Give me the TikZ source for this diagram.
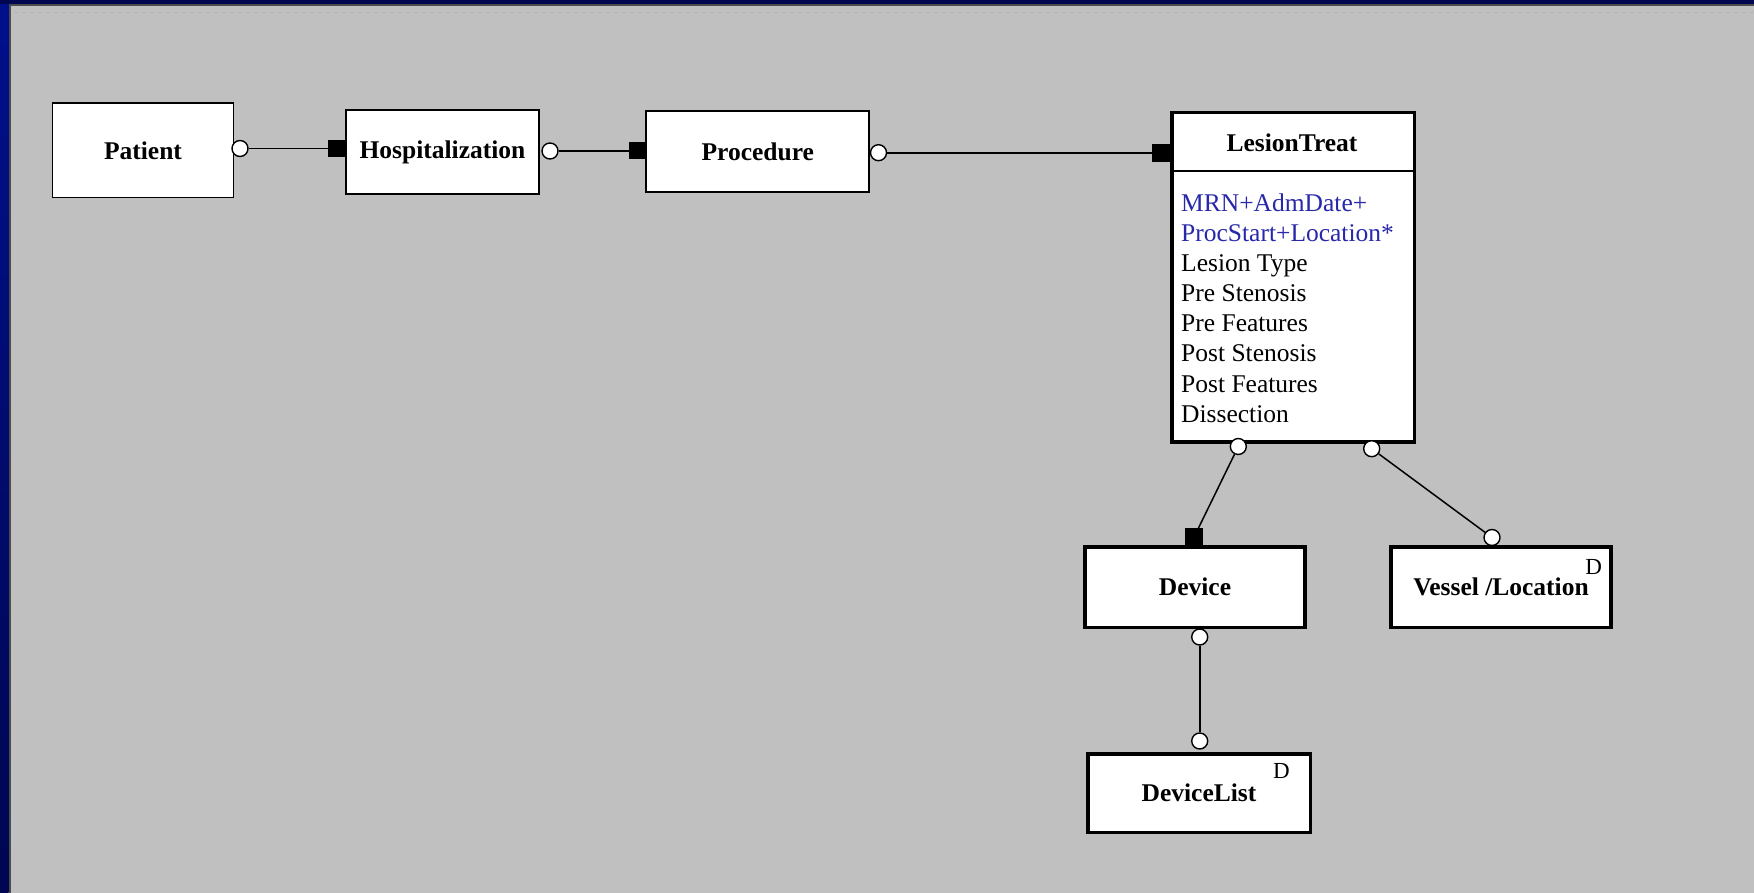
\documentclass[tikz,border=0pt]{standalone}
\usepackage{fontspec}
\setmainfont{Liberation Serif}
\definecolor{panel}{RGB}{192,192,192}
\definecolor{gridgray}{RGB}{172,172,172}
\definecolor{navy}{RGB}{0,16,140}
\definecolor{navydark}{RGB}{0,6,80}
\definecolor{keyblue}{RGB}{40,40,170}
\begin{document}
\begin{tikzpicture}[x=1pt,y=-1pt,
  entity/.style={draw=black, fill=white, line width=1.9pt, inner sep=0pt,
                 font=\fontsize{25.5}{30}\selectfont\bfseries},
  heavy/.style={entity, line width=3.5pt},
  optend/.style={circle, draw=black, fill=white, line width=1.4pt,
                 minimum size=16pt, inner sep=0pt},
  mandend/.style={rectangle, fill=black, inner sep=0pt,
                  minimum width=17pt, minimum height=17pt},
  link/.style={line width=1.9pt},
  attr/.style={anchor=base west, inner sep=0pt, font=\fontsize{25.5}{30}\selectfont},
  tag/.style={inner sep=0pt, font=\fontsize{23}{26}\selectfont}]

\useasboundingbox (0,0) rectangle (1754,893);

% window background and frame
\fill[panel] (0,0) rectangle (1754,893);
\shade[top color=navy, bottom color=navydark] (0,0) rectangle (8.5,893);
\fill[navydark] (0,0) rectangle (1754,4);
\draw[line width=2.5pt, black!70] (9.8,893) -- (9.8,5.2) -- (1754,5.2);
\draw[gridgray, line width=1.5pt, dash pattern=on 1.5pt off 6.5pt] (15,12.7) -- (1754,12.7);

% entities
\node[entity, minimum width=181pt, minimum height=94.5pt] (patient) at (143,150.3) {Patient};
\node[entity, minimum width=193.5pt, minimum height=84.5pt] (hosp) at (442.5,152) {Hospitalization};
\node[entity, minimum width=222.8pt, minimum height=80.5pt] (proc) at (757.8,151.7) {Procedure};
\node[heavy, minimum width=242.5pt, minimum height=329.8pt] (lesion) at (1293,277.3) {};
\node[heavy, minimum width=220pt, minimum height=80.8pt] (device) at (1195,587.2) {Device};
\node[heavy, minimum width=220pt, minimum height=80.5pt] (vessel) at (1501,587) {Vessel /Location};
\node[heavy, minimum width=222.5pt, minimum height=78.5pt] (devlist) at (1199,793) {DeviceList};

% LesionTreat header and attributes
\coordinate (hdr) at (0,170.7);
\draw[line width=1.9pt] (lesion.west |- hdr) -- (lesion.east |- hdr);
\node[inner sep=0pt, anchor=base, font=\fontsize{25.5}{30}\selectfont\bfseries]
  (lesiontitle) at (1292,151.7) {LesionTreat};
\node[attr, text=keyblue] (key1) at (1181,212) {MRN+AdmDate+};
\node[attr, text=keyblue] (key2) at (1181,242) {ProcStart+Location*};
\foreach \t [count=\i from 3] in {Lesion Type, Pre Stenosis, Pre Features,
    Post Stenosis, Post Features, Dissection}
  \node[attr] (attr\i) at (1181,{212+30*(\i-1)}) {\t};

% dependent-entity markers
\node[tag] (vtag) at (1593.7,567.2) {D};
\node[tag] (dtag) at (1281.3,771.3) {D};

% relationship ends
\node[optend] (patO) at (240,148.5) {};
\node[mandend] (hospM) at (336.7,148.5) {};
\node[optend] (hospO) at (550,151) {};
\node[mandend] (procM) at (637.3,151) {};
\node[optend] (procO) at (878.5,152.7) {};
\node[mandend, minimum width=18pt, minimum height=18pt] (lesM) at (1160.8,152.7) {};
\node[optend] (lesOa) at (1238.3,446.5) {};
\node[optend] (lesOb) at (1371.7,448.7) {};
\node[mandend, minimum width=18pt, minimum height=18pt] (devM) at (1194,537.2) {};
\node[optend] (vesO) at (1492,537.5) {};
\node[optend] (devO) at (1199.7,637) {};
\node[optend] (dlO) at (1199.7,741) {};

% relationships
\draw[link] (patO) -- (hospM);
\draw[link] (hospO) -- (procM);
\draw[link] (procO) -- (lesM);
\draw[link, line width=1.5pt] (lesOa) -- (devM);
\draw[link, line width=1.5pt] (lesOb) -- (vesO);
\draw[link] (devO) -- (dlO);
\end{tikzpicture}
\end{document}
